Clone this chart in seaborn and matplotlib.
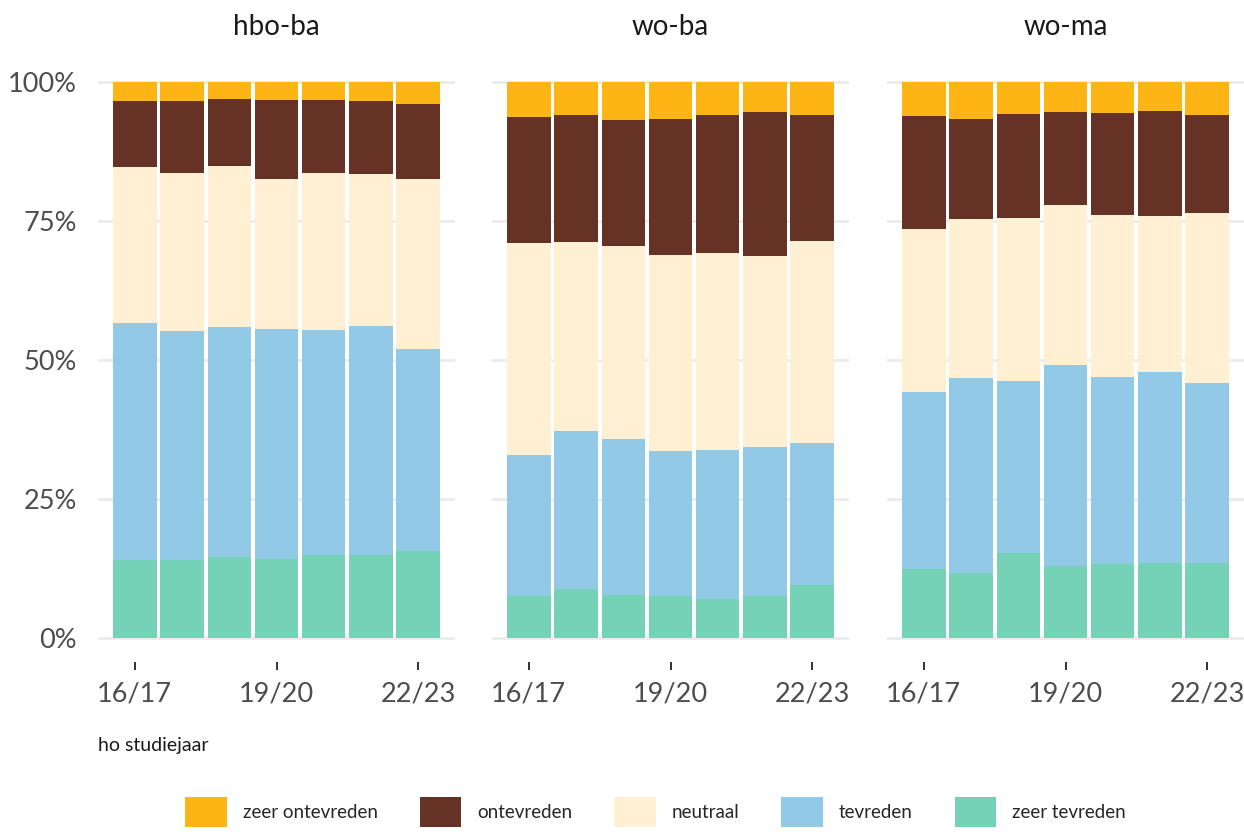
import numpy as np
import pandas as pd
import seaborn as sns
import matplotlib.pyplot as plt
from matplotlib.patches import Patch
from matplotlib.ticker import FixedLocator

# studiejaren en niveaus
jaren = ["16/17", "17/18", "18/19", "19/20", "20/21", "21/22", "22/23"]
niveaus = ["hbo-ba", "wo-ba", "wo-ma"]
categorieen = ["zeer ontevreden", "ontevreden", "neutraal", "tevreden", "zeer tevreden"]
kleuren = ["#FDB515", "#673226", "#FFF0D3", "#92C9E6", "#76D2B6"]

# percentages per niveau (aflezen uit figuur)
hbo_ba = {
    "zeer tevreden": [14.0, 14.0, 14.6, 14.2, 14.9, 14.9, 15.6],
    "tevreden": [42.7, 41.2, 41.3, 41.4, 40.5, 41.2, 36.4],
    "neutraal": [28.0, 28.4, 29.0, 27.0, 28.2, 27.4, 30.6],
    "ontevreden": [11.9, 13.0, 12.1, 14.2, 13.2, 13.1, 13.4],
    "zeer ontevreden": [3.4, 3.4, 3.0, 3.2, 3.2, 3.4, 4.0],
}
wo_ba = {
    "zeer tevreden": [7.6, 8.8, 7.7, 7.6, 7.0, 7.6, 9.5],
    "tevreden": [25.3, 28.4, 28.1, 26.0, 26.8, 26.8, 25.6],
    "neutraal": [38.1, 34.0, 34.7, 35.3, 35.4, 34.3, 36.3],
    "ontevreden": [22.7, 22.9, 22.7, 24.4, 24.9, 25.9, 22.7],
    "zeer ontevreden": [6.3, 5.9, 6.8, 6.7, 5.9, 5.4, 5.9],
}
wo_ma = {
    "zeer tevreden": [12.4, 11.7, 15.3, 12.9, 13.3, 13.5, 13.5],
    "tevreden": [31.8, 35.1, 30.9, 36.2, 33.6, 34.3, 32.4],
    "neutraal": [29.4, 28.6, 29.3, 28.8, 29.2, 28.1, 30.5],
    "ontevreden": [20.3, 17.9, 18.7, 16.7, 18.3, 18.9, 17.7],
    "zeer ontevreden": [6.1, 6.7, 5.8, 5.4, 5.6, 5.2, 5.9],
}
data = {"hbo-ba": hbo_ba, "wo-ba": wo_ba, "wo-ma": wo_ma}

sns.set_theme(style="white")
plt.rcParams["font.family"] = ["Lato", "DejaVu Sans"]

fig = plt.figure(figsize=(12.44, 8.36), dpi=100)
lefts = [98, 492, 887]
breedte = 357
ax_bottom = 1 - 643.6 / 836
ax_top = 1 - 76.4 / 836

for i, niveau in enumerate(niveaus):
    ax = fig.add_axes([lefts[i] / 1244, ax_bottom, breedte / 1244, ax_top - ax_bottom])
    df = pd.DataFrame(data[niveau], index=jaren)
    # cumulatief van onder naar boven, daarna van boven naar onder tekenen
    volgorde = categorieen[::-1]
    cum = df[volgorde].cumsum(axis=1)
    for cat, kleur in zip(categorieen, kleuren):
        sns.barplot(x=jaren, y=cum[cat].values, color=kleur, width=0.92,
                    saturation=1, ax=ax, linewidth=0)
    for y in [0, 25, 50, 75, 100]:
        ax.axhline(y, color="#EBEBEB", lw=2, zorder=0)
    ax.set_ylim(-1, 101)
    ax.set_xlim(-0.78, 6.78)
    ax.set_yticks([0, 25, 50, 75, 100])
    if i == 0:
        ax.set_yticklabels(["0%", "25%", "50%", "75%", "100%"])
    else:
        ax.set_yticklabels([])
    ax.xaxis.set_major_locator(FixedLocator([0, 3, 6]))
    ax.set_xticklabels(["16/17", "19/20", "22/23"])
    for s in ax.spines.values():
        s.set_visible(False)
    ax.spines["bottom"].set_position(("outward", 13))
    ax.tick_params(axis="x", bottom=True, length=6, width=1.4, color="#333333",
                   pad=8, labelsize=19.5, labelcolor="#4D4D4D")
    ax.tick_params(axis="y", left=False, pad=9, labelsize=19.5, labelcolor="#4D4D4D")
    ax.set_xlabel("")
    ax.set_ylabel("")
    ax.set_title(niveau, fontsize=20, color="#1A1A1A", pad=30)
    ax.set_axisbelow(True)

fig.text(98 / 1244, 1 - 745 / 836, "ho studiejaar", fontsize=14, color="#1A1A1A",
         ha="left", va="center")

handles = [Patch(facecolor=k, edgecolor="none", label=c) for c, k in zip(categorieen, kleuren)]
fig.legend(handles=handles, loc="upper center", bbox_to_anchor=(0.527, 1 - 797 / 836),
           ncol=5, frameon=False, fontsize=13.5, handlelength=2.2, handleheight=2.1,
           handletextpad=0.85, columnspacing=2.25, borderpad=0, borderaxespad=0)

fig.savefig("out.png", dpi=100)
